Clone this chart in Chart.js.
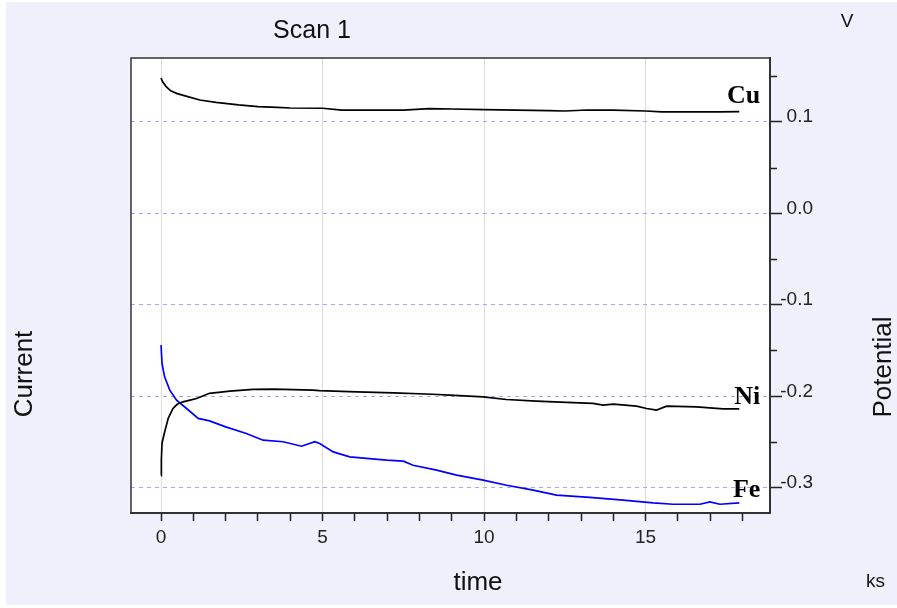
<!DOCTYPE html>
<html>
<head>
<meta charset="utf-8">
<script src="https://cdn.jsdelivr.net/npm/chart.js@4/dist/chart.umd.min.js"></script>
<style>
  html, body { margin: 0; padding: 0; background: #ffffff; }
  #wrap { width: 897px; height: 608px; position: relative; }
</style>
</head>
<body>
<div id="wrap"><canvas id="c" width="897" height="608"></canvas></div>
<script>
// ---- data ----
const seriesNames = ['Cu', 'Ni', 'Fe'];

const cuTime = [0, 0.05, 0.15, 0.3, 0.5, 0.8, 1.2, 1.7, 2.4, 3.0, 3.6, 4.0, 5.0, 5.6, 6.5, 7.5, 8.3, 9.0, 10, 11, 12, 12.5, 13.2, 14, 15, 15.5, 16.5, 17.3, 17.9];
const cuValues = [0.148, 0.144, 0.139, 0.134, 0.131, 0.128, 0.124, 0.1215, 0.1186, 0.1168, 0.116, 0.1153, 0.115, 0.113, 0.113, 0.113, 0.1146, 0.1142, 0.1135, 0.113, 0.1125, 0.112, 0.1131, 0.113, 0.112, 0.111, 0.111, 0.111, 0.1113];

const niTime = [0, 0.01, 0.03, 0.1, 0.22, 0.37, 0.5, 0.68, 0.9, 1.1, 1.5, 2.13, 2.85, 3.5, 4.7, 4.9, 6.05, 7.2, 8.4, 8.94, 9.97, 10.69, 11.62, 12.55, 13.37, 13.68, 14.0, 14.72, 15.03, 15.34, 15.65, 16.58, 17.4, 17.9];
const niValues = [-0.287, -0.27, -0.2516, -0.241, -0.2245, -0.2136, -0.209, -0.2063, -0.2045, -0.2027, -0.197, -0.1946, -0.1928, -0.1925, -0.1935, -0.194, -0.1954, -0.1965, -0.198, -0.199, -0.2008, -0.2038, -0.2056, -0.207, -0.208, -0.210, -0.2089, -0.211, -0.2136, -0.2154, -0.211, -0.2118, -0.214, -0.214];

const feTime = [0, 0.03, 0.11, 0.27, 0.48, 0.79, 1.15, 1.5, 2.0, 2.64, 3.16, 3.78, 4.35, 4.76, 4.91, 5.33, 5.84, 6.36, 6.98, 7.5, 7.8, 8.53, 9.15, 9.97, 10.7, 11.52, 12.24, 13.27, 14.3, 15.23, 15.85, 16.68, 16.99, 17.3, 17.9];
const feValues = [-0.1443, -0.1643, -0.179, -0.1935, -0.2045, -0.2136, -0.2245, -0.2272, -0.2337, -0.241, -0.2483, -0.25, -0.2549, -0.25, -0.252, -0.2611, -0.2666, -0.2683, -0.2702, -0.2713, -0.2757, -0.2811, -0.2866, -0.292, -0.2976, -0.303, -0.3085, -0.311, -0.314, -0.317, -0.3184, -0.3184, -0.3158, -0.3184, -0.317];

const xTickValues = [0, 1, 2, 3, 4, 5, 6, 7, 8, 9, 10, 11, 12, 13, 14, 15, 16, 17, 18];
const xTickLabels = ['0', '', '', '', '', '5', '', '', '', '', '10', '', '', '', '', '15', '', '', ''];
const yMajorTicks = [0.1, 0.0, -0.1, -0.2, -0.3];
const yMajorLabels = ['0.1', '0.0', '-0.1', '-0.2', '-0.3'];
const yMinorTicks = [0.15, 0.05, -0.05, -0.15, -0.25];

// ---- styling / layout ----
const LAVENDER = '#f0f0fc';
const SANS = '"Liberation Sans", Arial, sans-serif';
const SERIF = '"Liberation Serif", "Times New Roman", serif';
const labelAnchor = { x: 18.55, y: [0.121, -0.209, -0.311] };

const toPts = (t, v) => t.map((x, i) => ({ x: x, y: v[i] }));

const decorPlugin = {
  id: 'decor',
  beforeDraw(chart) {
    const ctx = chart.ctx, a = chart.chartArea;
    ctx.save();
    ctx.fillStyle = '#ffffff';
    ctx.fillRect(0, 0, chart.width, chart.height);
    ctx.fillStyle = LAVENDER;
    ctx.fillRect(6, 2, chart.width - 6, chart.height - 5);
    ctx.fillStyle = '#ffffff';
    ctx.fillRect(a.left, a.top, a.right - a.left, a.bottom - a.top);
    ctx.restore();
  },
  afterDraw(chart) {
    const ctx = chart.ctx, a = chart.chartArea;
    const xs = chart.scales.x, ys = chart.scales.y;
    ctx.save();
    ctx.setLineDash([]);
    // top and left frame
    ctx.strokeStyle = '#333';
    ctx.lineWidth = 1.5;
    ctx.beginPath();
    ctx.moveTo(a.left, a.bottom);
    ctx.lineTo(a.left, a.top);
    ctx.lineTo(a.right, a.top);
    ctx.stroke();
    // minor ticks on right axis
    ctx.strokeStyle = '#222';
    ctx.lineWidth = 1.5;
    yMinorTicks.forEach(v => {
      const py = Math.round(ys.getPixelForValue(v)) + 0.5;
      ctx.beginPath();
      ctx.moveTo(a.right, py);
      ctx.lineTo(a.right + 7, py);
      ctx.stroke();
    });
    // right-aligned value labels of the potential axis
    ctx.fillStyle = '#222';
    ctx.font = '19px ' + SANS;
    ctx.textAlign = 'right';
    ctx.textBaseline = 'alphabetic';
    yMajorTicks.forEach((v, i) => {
      ctx.fillText(yMajorLabels[i], a.right + 43, ys.getPixelForValue(v) + 0.5);
    });
    // texts
    ctx.fillStyle = '#111';
    ctx.font = '25px ' + SANS;
    ctx.textAlign = 'center';
    ctx.fillText('Scan 1', 312, 38);
    ctx.font = '19px ' + SANS;
    ctx.fillText('V', 847, 27);
    ctx.textAlign = 'left';
    ctx.fillText('ks', 866, 587);
    ctx.font = '26px ' + SANS;
    ctx.textAlign = 'center';
    ctx.fillText('time', 478, 590);
    ctx.save();
    ctx.translate(32, 374);
    ctx.rotate(-Math.PI / 2);
    ctx.fillText('Current', 0, 0);
    ctx.restore();
    ctx.save();
    ctx.translate(891, 367);
    ctx.rotate(-Math.PI / 2);
    ctx.fillText('Potential', 0, 0);
    ctx.restore();
    // series labels
    ctx.fillStyle = '#000';
    ctx.font = 'bold 26px ' + SERIF;
    ctx.textAlign = 'right';
    seriesNames.forEach((n, i) => {
      ctx.fillText(n, xs.getPixelForValue(labelAnchor.x), ys.getPixelForValue(labelAnchor.y[i]));
    });
    ctx.restore();
  }
};

const isMajorY = v => yMajorTicks.some(m => Math.abs(m - v) < 1e-6);

new Chart(document.getElementById('c'), {
  type: 'line',
  data: {
    datasets: [
      { label: seriesNames[0], data: toPts(cuTime, cuValues), borderColor: '#000000', borderWidth: 1.7 },
      { label: seriesNames[1], data: toPts(niTime, niValues), borderColor: '#000000', borderWidth: 1.7 },
      { label: seriesNames[2], data: toPts(feTime, feValues), borderColor: '#0000ff', borderWidth: 1.7 }
    ]
  },
  options: {
    responsive: false,
    animation: false,
    devicePixelRatio: 1,
    layout: { padding: { left: 131, top: 58, right: 0, bottom: 0 } },
    elements: { point: { radius: 0 }, line: { tension: 0 } },
    plugins: { legend: { display: false }, tooltip: { enabled: false }, title: { display: false } },
    scales: {
      x: {
        type: 'linear',
        position: 'bottom',
        min: -0.93,
        max: 18.85,
        afterBuildTicks: s => { s.ticks = xTickValues.map(v => ({ value: v })); },
        afterFit: s => { s.height = 95; },
        ticks: {
          autoSkip: false,
          maxRotation: 0,
          padding: 5,
          color: '#222',
          font: { family: SANS, size: 19 },
          callback: (v) => { const i = xTickValues.indexOf(v); return i >= 0 ? xTickLabels[i] : ''; }
        },
        grid: {
          color: c => (c.tick && c.tick.value % 5 === 0) ? '#dcdcdc' : 'rgba(0,0,0,0)',
          lineWidth: 1,
          drawTicks: true,
          tickLength: 8,
          tickColor: '#222',
          tickWidth: 1.5
        },
        border: { display: true, color: '#333', width: 2 }
      },
      y: {
        type: 'linear',
        position: 'right',
        min: -0.328,
        max: 0.170,
        afterBuildTicks: s => { s.ticks = yMajorTicks.map(v => ({ value: v })); },
        afterFit: s => { s.width = 127; },
        ticks: { display: false },
        grid: {
          color: c => (c.tick && isMajorY(c.tick.value)) ? '#a8a8f6' : 'rgba(0,0,0,0)',
          lineWidth: 1,
          drawTicks: true,
          tickLength: 12,
          tickColor: '#222',
          tickWidth: 1.5,
          tickBorderDash: []
        },
        border: { display: true, color: '#333', width: 2, dash: [4, 4] }
      }
    }
  },
  plugins: [decorPlugin]
});
</script>
</body>
</html>
